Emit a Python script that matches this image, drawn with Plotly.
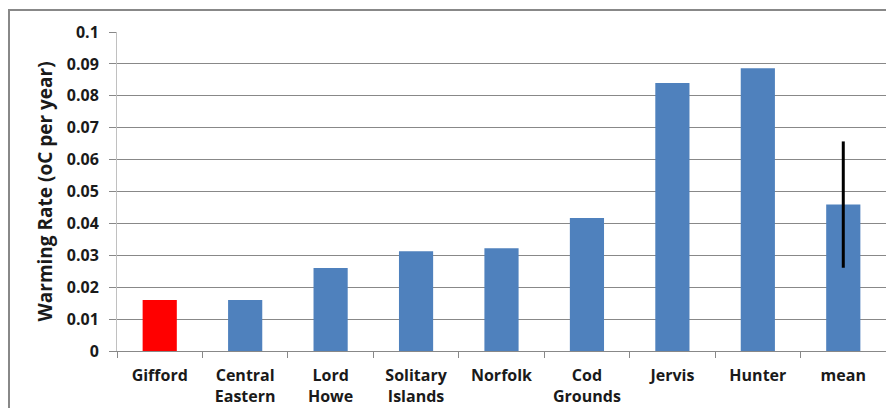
import plotly.graph_objects as go

categories = ["Gifford", "Central<br>Eastern", "Lord<br>Howe", "Solitary<br>Islands",
              "Norfolk", "Cod<br>Grounds", "Jervis", "Hunter", "mean"]
values = [0.016, 0.016, 0.026, 0.0313, 0.0322, 0.0417, 0.0840, 0.0886, 0.0459]
colors = ["#FF0000"] + ["#4F81BD"] * 8
mean_error = 0.0198
y_ticks = [0, 0.01, 0.02, 0.03, 0.04, 0.05, 0.06, 0.07, 0.08, 0.09, 0.1]
y_tick_labels = ["0", "0.01", "0.02", "0.03", "0.04", "0.05", "0.06", "0.07", "0.08", "0.09", "0.1"]

fig = go.Figure()
fig.add_trace(go.Bar(
    x=categories, y=values,
    marker=dict(color=colors, line=dict(width=0)),
    width=0.4, showlegend=False, hoverinfo="x+y",
))
fig.add_trace(go.Scatter(
    x=[categories[-1]], y=[values[-1]], mode="markers",
    marker=dict(size=0.1, color="rgba(0,0,0,0)"),
    error_y=dict(type="data", array=[mean_error], color="black", thickness=3, width=0),
    showlegend=False, hoverinfo="skip",
))

# page has an 8px body margin: figure sits at (8, 8)
W, H = 878, 400
L, R, T, B = 109, 0, 24, 57
pw, ph = W - L - R, H - T - B

fig.update_layout(
    width=W, height=H,
    margin=dict(l=L, r=R, t=T, b=B, autoexpand=False),
    paper_bgcolor="white", plot_bgcolor="white",
    font=dict(family="Open Sans", size=14, color="#1a1a1a", weight="bold"),
    bargap=0.6,
    shapes=[dict(type="rect", xref="paper", yref="paper",
                 x0=(1 - L) / pw, x1=1.2, y0=-0.5, y1=1 + (T - 2) / ph,
                 line=dict(color="#888888", width=2), layer="below")],
)
fig.update_xaxes(
    type="category", tickson="boundaries", ticks="outside", ticklen=6,
    tickcolor="#888888", showline=True, linecolor="#888888", linewidth=1,
    showgrid=False, automargin=False,
    tickfont=dict(family="Open Sans", size=16, color="#1a1a1a", weight="bold"),
    ticklabelstandoff=10,
)
fig.update_yaxes(
    range=[0, 0.1], tickvals=y_ticks, ticktext=y_tick_labels,
    ticks="outside", ticklen=7, tickcolor="#888888",
    showgrid=True, gridcolor="#888888", gridwidth=1,
    showline=True, linecolor="#c0c0c0", linewidth=1, zeroline=False,
    automargin=False, ticklabelstandoff=7,
    tickfont=dict(family="Open Sans", size=16, color="#1a1a1a", weight="bold"),
    title=dict(text="Warming Rate (oC per year)",
               font=dict(family="Open Sans", size=19, color="#1a1a1a", weight="bold"),
               standoff=9),
)
fig.write_html("out.html")
